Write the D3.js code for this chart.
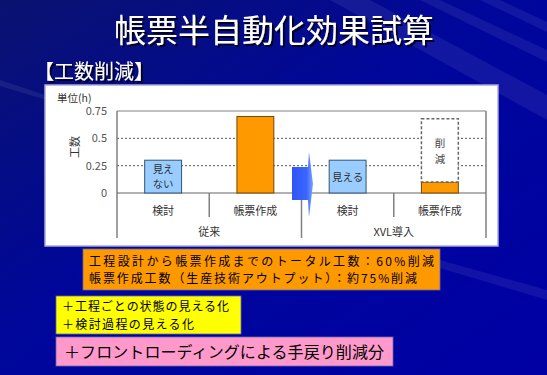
<!DOCTYPE html>
<meta charset="utf-8">
<script src="https://d3js.org/d3.v7.min.js"></script>
<style>
  body { margin: 0; background: #00009a; }
  svg text { font-family: "Noto Sans CJK JP", "Noto Sans", sans-serif; }
</style>
<div id="chart"></div>
<script>
// chart data
var categories = ["検討", "帳票作成", "検討", "帳票作成"];
var groups = ["従来", "XVL導入"];
var values = [0.30, 0.70, 0.30, 0.10];
var barNotes = [["見え", "ない"], [], ["見える"], []];
var reducedFrom = 0.68;   // dashed ghost bar top for XVL 帳票作成
var reducedLabel = ["削", "減"];
var yTicks = [0, 0.25, 0.5, 0.75];
var yTickLabels = ["0", "0.25", "0.5", "0.75"];
var unitLabel = "単位(h)";
var yTitle = "工数";

var title = "帳票半自動化効果試算";
var subtitle = "【工数削減】";
var orangeLines = ["工程設計から帳票作成までのトータル工数：60%削減",
                   "帳票作成工数（生産技術アウトプット）：約75%削減"];
var yellowLines = ["＋工程ごとの状態の見える化", "＋検討過程の見える化"];
var pinkLines = ["＋フロントローディングによる手戻り削減分"];

var W = 547, H = 375;
var svg = d3.select("#chart").append("svg")
    .attr("width", W).attr("height", H);

// background
var defs = svg.append("defs");
var bg = defs.append("linearGradient").attr("id", "bg")
    .attr("x1", 0).attr("y1", 0).attr("x2", 1).attr("y2", 1);
bg.append("stop").attr("offset", 0).attr("stop-color", "#0a1270");
bg.append("stop").attr("offset", 0.45).attr("stop-color", "#00079a");
bg.append("stop").attr("offset", 1).attr("stop-color", "#0000a4");
svg.append("rect").attr("width", W).attr("height", H).attr("fill", "url(#bg)");

// light diagonal streaks
var streaks = [
    "M330,0 L370,0 L547,95 L547,120 Z",
    "M420,0 L440,0 L547,50 L547,62 Z",
    "M480,0 L500,0 L547,22 L547,32 Z",
    "M440,260 L547,290 L547,300 L440,268 Z",
    "M0,80 L60,100 L60,104 L0,86 Z"
];
svg.selectAll("path.streak").data(streaks).enter().append("path")
    .attr("class", "streak").attr("d", function(d) { return d; })
    .attr("fill", "#ffffff").attr("opacity", 0.07);

// title + subtitle with shadow (filter, so the text is drawn once)
var sh = defs.append("filter").attr("id", "shadow")
    .attr("x", "-10%").attr("y", "-20%").attr("width", "130%").attr("height", "160%");
sh.append("feDropShadow").attr("dx", 2).attr("dy", 2).attr("stdDeviation", 0.3)
    .attr("flood-color", "#000020").attr("flood-opacity", 1);

svg.append("text").attr("x", 274).attr("y", 42).text(title)
    .attr("font-size", 32).attr("fill", "#fff").attr("text-anchor", "middle")
    .attr("filter", "url(#shadow)");
svg.append("text").attr("x", 34).attr("y", 79).text(subtitle)
    .attr("font-size", 20).attr("fill", "#fff").attr("filter", "url(#shadow)");

// white chart panel
svg.append("rect").attr("x", 45).attr("y", 85).attr("width", 453).attr("height", 161)
    .attr("fill", "#ffffff").attr("stroke", "#a8a8d8").attr("stroke-width", 1.5);

var plotL = 117, plotR = 486, yTop = 111, yZero = 193, yBottom = 238;

var x = d3.scaleBand().domain(d3.range(categories.length)).range([plotL, plotR]);
var y = d3.scaleLinear().domain([0, 0.75]).range([yZero, yTop]);
var barW = x.bandwidth() * 0.4;

var g = svg.append("g");

// grid lines
g.selectAll("line.grid").data(yTicks.filter(function(t) { return t > 0 && t < 0.75; }))
    .enter().append("line").attr("class", "grid")
    .attr("x1", plotL).attr("x2", plotR)
    .attr("y1", function(d) { return y(d); }).attr("y2", function(d) { return y(d); })
    .attr("stroke", "#555").attr("stroke-dasharray", "2,2").attr("stroke-width", 1);

// y axis labels
var yAxis = d3.axisLeft(y).tickValues(yTicks).tickSize(0).tickPadding(10)
    .tickFormat(function(d, i) { return yTickLabels[i]; });
var ya = g.append("g").attr("transform", "translate(" + plotL + ",0)").call(yAxis);
ya.select(".domain").remove();
ya.selectAll("text").attr("font-size", 11).attr("fill", "#555")
    .attr("font-family", "'Liberation Sans', Arial, sans-serif");

svg.append("text").attr("x", 57).attr("y", 102).text(unitLabel)
    .attr("font-size", 10.5).attr("fill", "#333");
svg.append("text").attr("transform", "translate(79,147) rotate(-90)")
    .attr("text-anchor", "middle").text(yTitle)
    .attr("font-size", 11).attr("fill", "#333");

// frame
var frame = "#808080";
g.append("line").attr("x1", plotL).attr("x2", plotR).attr("y1", yTop).attr("y2", yTop)
    .attr("stroke", frame);
g.append("line").attr("x1", plotL).attr("x2", plotL).attr("y1", yTop).attr("y2", yBottom)
    .attr("stroke", frame).attr("stroke-width", 1.5);
g.append("line").attr("x1", plotR).attr("x2", plotR).attr("y1", yTop).attr("y2", yBottom)
    .attr("stroke", frame).attr("stroke-width", 1.5);
g.append("line").attr("x1", plotL).attr("x2", plotR).attr("y1", yZero).attr("y2", yZero)
    .attr("stroke", "#666").attr("stroke-width", 1.2);

// category separators
[1, 3].forEach(function(i) {
    g.append("line").attr("x1", x(i)).attr("x2", x(i)).attr("y1", yZero).attr("y2", 217)
        .attr("stroke", frame).attr("stroke-width", 1.5);
});
g.append("line").attr("x1", x(2)).attr("x2", x(2)).attr("y1", yZero).attr("y2", yBottom)
    .attr("stroke", frame).attr("stroke-width", 1.5);

// bars
var barFill = ["#99ccff", "#ff9900", "#99ccff", "#ff9900"];
var barStroke = ["#335577", "#774400", "#335577", "#774400"];
g.selectAll("rect.bar").data(values).enter().append("rect").attr("class", "bar")
    .attr("x", function(d, i) { return x(i) + (x.bandwidth() - barW) / 2; })
    .attr("y", function(d) { return y(d); })
    .attr("width", barW)
    .attr("height", function(d) { return y(0) - y(d); })
    .attr("fill", function(d, i) { return barFill[i]; })
    .attr("stroke", function(d, i) { return barStroke[i]; })
    .attr("stroke-width", 1);

// multi-line label as one text element
function multiText(parent, lines, x0, y0, lineH, size, fill, anchor, widths) {
    var t = parent.append("text").attr("font-size", size).attr("fill", fill)
        .attr("text-anchor", anchor);
    lines.forEach(function(s, j) {
        var ts = t.append("tspan").attr("x", x0).attr("y", y0 + j * lineH).text(s);
        if (widths) ts.attr("textLength", widths[j]).attr("lengthAdjust", "spacing");
    });
    return t;
}

// notes inside blue bars
barNotes.forEach(function(lines, i) {
    if (!lines.length) return;
    var cx = x(i) + x.bandwidth() / 2;
    var top = y(values[i]), mid = (top + yZero) / 2;
    multiText(g, lines, cx, mid - (lines.length - 1) * 7.8 + 4, 15.6, 10.5, "#333", "middle");
});

// dashed reduction ghost bar
var gx = x(3) + (x.bandwidth() - barW) / 2;
g.append("rect").attr("x", gx).attr("y", y(reducedFrom)).attr("width", barW)
    .attr("height", y(values[3]) - y(reducedFrom))
    .attr("fill", "#ffffff").attr("stroke", "#666").attr("stroke-width", 1.5)
    .attr("stroke-dasharray", "3,2");
multiText(g, reducedLabel, gx + barW / 2, 147, 15.5, 10.5, "#444", "middle");

// category + group labels
g.selectAll("text.cat").data(categories).enter().append("text").attr("class", "cat")
    .attr("x", function(d, i) { return x(i) + x.bandwidth() / 2; })
    .attr("y", 215).attr("text-anchor", "middle").text(function(d) { return d; })
    .attr("font-size", 11).attr("fill", "#333");
g.selectAll("text.grp").data(groups).enter().append("text").attr("class", "grp")
    .attr("x", function(d, i) { return x(i * 2 + 1); })
    .attr("y", 236).attr("text-anchor", "middle").text(function(d) { return d; })
    .attr("font-size", 11).attr("fill", "#333");

// blue transition arrow
var ag = defs.append("linearGradient").attr("id", "arrowGrad")
    .attr("x1", 0).attr("y1", 0).attr("x2", 1).attr("y2", 0);
ag.append("stop").attr("offset", 0).attr("stop-color", "#2f55f5");
ag.append("stop").attr("offset", 0.7).attr("stop-color", "#3a66ff");
ag.append("stop").attr("offset", 1).attr("stop-color", "#7fa0ff");
svg.append("path")
    .attr("d", "M292,167 H308 L309,152 L313,184 L309,217 L308,200 H292 Z")
    .attr("fill", "url(#arrowGrad)");

// text boxes; widths[] = measured line widths in the reference
function textBox(lines, widths, bx, by, bw, bh, fill, size, lineH, tx, ty) {
    svg.append("rect").attr("x", bx).attr("y", by).attr("width", bw).attr("height", bh)
        .attr("fill", fill).attr("stroke", "#6666aa").attr("stroke-width", 0.8);
    multiText(svg, lines, tx, ty, lineH, size, "#000", "start", widths);
}
textBox(orangeLines, [345, 328], 83, 249, 357, 41, "#ff9900", 12, 17.5, 89, 265.5);
textBox(yellowLines, [167, 132], 56, 296, 185, 38, "#ffff00", 12, 17.5, 62, 311);
textBox(pinkLines, [320], 56, 337, 337, 29, "#ff99cc", 16, 0, 64, 358);
</script>
